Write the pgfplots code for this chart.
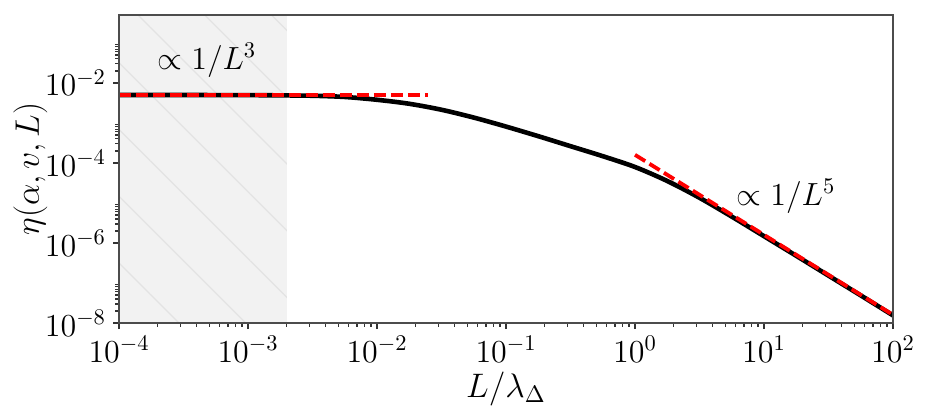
\RequirePackage{fix-cm}
\documentclass[border=0pt]{standalone}
\usepackage{pgfplots}
\pgfplotsset{compat=1.18}
\usetikzlibrary{patterns.meta}
\begin{document}
\begin{tikzpicture}
\begin{axis}[
  at={(0,0)}, anchor=south west,
  scale only axis, width=387pt, height=154pt,
  xmode=log, ymode=log,
  xmin=1e-4, xmax=1e2, ymin=1e-8, ymax=0.5,
  xtick={1e-4,1e-3,1e-2,1e-1,1,10,100},
  ytick={1e-8,1e-6,1e-4,1e-2},
  minor xtick={2e-4,3e-4,4e-4,5e-4,6e-4,7e-4,8e-4,9e-4,
               2e-3,3e-3,4e-3,5e-3,6e-3,7e-3,8e-3,9e-3,
               2e-2,3e-2,4e-2,5e-2,6e-2,7e-2,8e-2,9e-2,
               0.2,0.3,0.4,0.5,0.6,0.7,0.8,0.9,
               2,3,4,5,6,7,8,9,
               20,30,40,50,60,70,80,90},
  minor ytick={2e-8,3e-8,4e-8,5e-8,6e-8,7e-8,8e-8,9e-8,
               2e-6,3e-6,4e-6,5e-6,6e-6,7e-6,8e-6,9e-6,
               2e-4,3e-4,4e-4,5e-4,6e-4,7e-4,8e-4,9e-4,
               2e-2,3e-2,4e-2,5e-2,6e-2,7e-2,8e-2,9e-2},
  tick pos=left,
  tick align=outside,
  major tick length=3pt, minor tick length=1.8pt,
  axis line style={black!70, line width=0.8pt},
  every tick/.style={black!80, line width=0.6pt},
  tick label style={font=\fontsize{16}{19}\selectfont},
  label style={font=\fontsize{17}{20}\selectfont},
  xlabel={$L/\lambda_\Delta$},
  ylabel={$\eta(\alpha,v,L)$},
  ylabel shift=-8pt,
  xlabel shift=-2pt,
  axis on top,
]
% shaded region
\addplot[draw=none, fill=black!5,
  postaction={pattern={Lines[angle=-45,distance=23.6pt,line width=0.6pt]}, pattern color=black!11}]
  coordinates {(1e-4,1e-8) (2e-3,1e-8) (2e-3,0.5) (1e-4,0.5)} -- cycle;

% main curve
\addplot[black, line width=2.3pt, smooth] coordinates {
(1e-4,5.0e-3) (3.162e-4,5.0e-3) (1e-3,4.96e-3) (1.778e-3,4.90e-3)
(3.162e-3,4.79e-3) (5.623e-3,4.47e-3) (1e-2,3.80e-3) (1.778e-2,3.02e-3)
(3.162e-2,2.14e-3) (5.623e-2,1.365e-3) (0.1,8.13e-4) (0.1778,4.68e-4)
(0.3162,2.63e-4) (0.5623,1.48e-4) (1,7.94e-5) (1.778,3.55e-5)
(3.162,1.35e-5) (5.623,4.57e-6) (10,1.48e-6) (17.78,4.79e-7)
(31.62,1.53e-7) (56.23,4.90e-8) (100,1.55e-8)};

% asymptotes
\addplot[red, line width=1.9pt, dash pattern=on 6pt off 2.5pt] coordinates {(1e-4,5.0e-3) (0.0248,5.0e-3)};
\addplot[red, line width=1.9pt, dash pattern=on 6pt off 2.5pt] coordinates {(1,1.6e-4) (100,1.6e-8)};

\node[font=\fontsize{16}{19}\selectfont] at (axis cs:4.8e-4,3.7e-2) {$\propto 1/L^3$};
\node[font=\fontsize{16}{19}\selectfont] at (axis cs:14.8,1.45e-5) {$\propto 1/L^5$};
\end{axis}
\pgfresetboundingbox
\path (-59.5pt,-44pt) rectangle (403pt,161.5pt);
\end{tikzpicture}
\end{document}
